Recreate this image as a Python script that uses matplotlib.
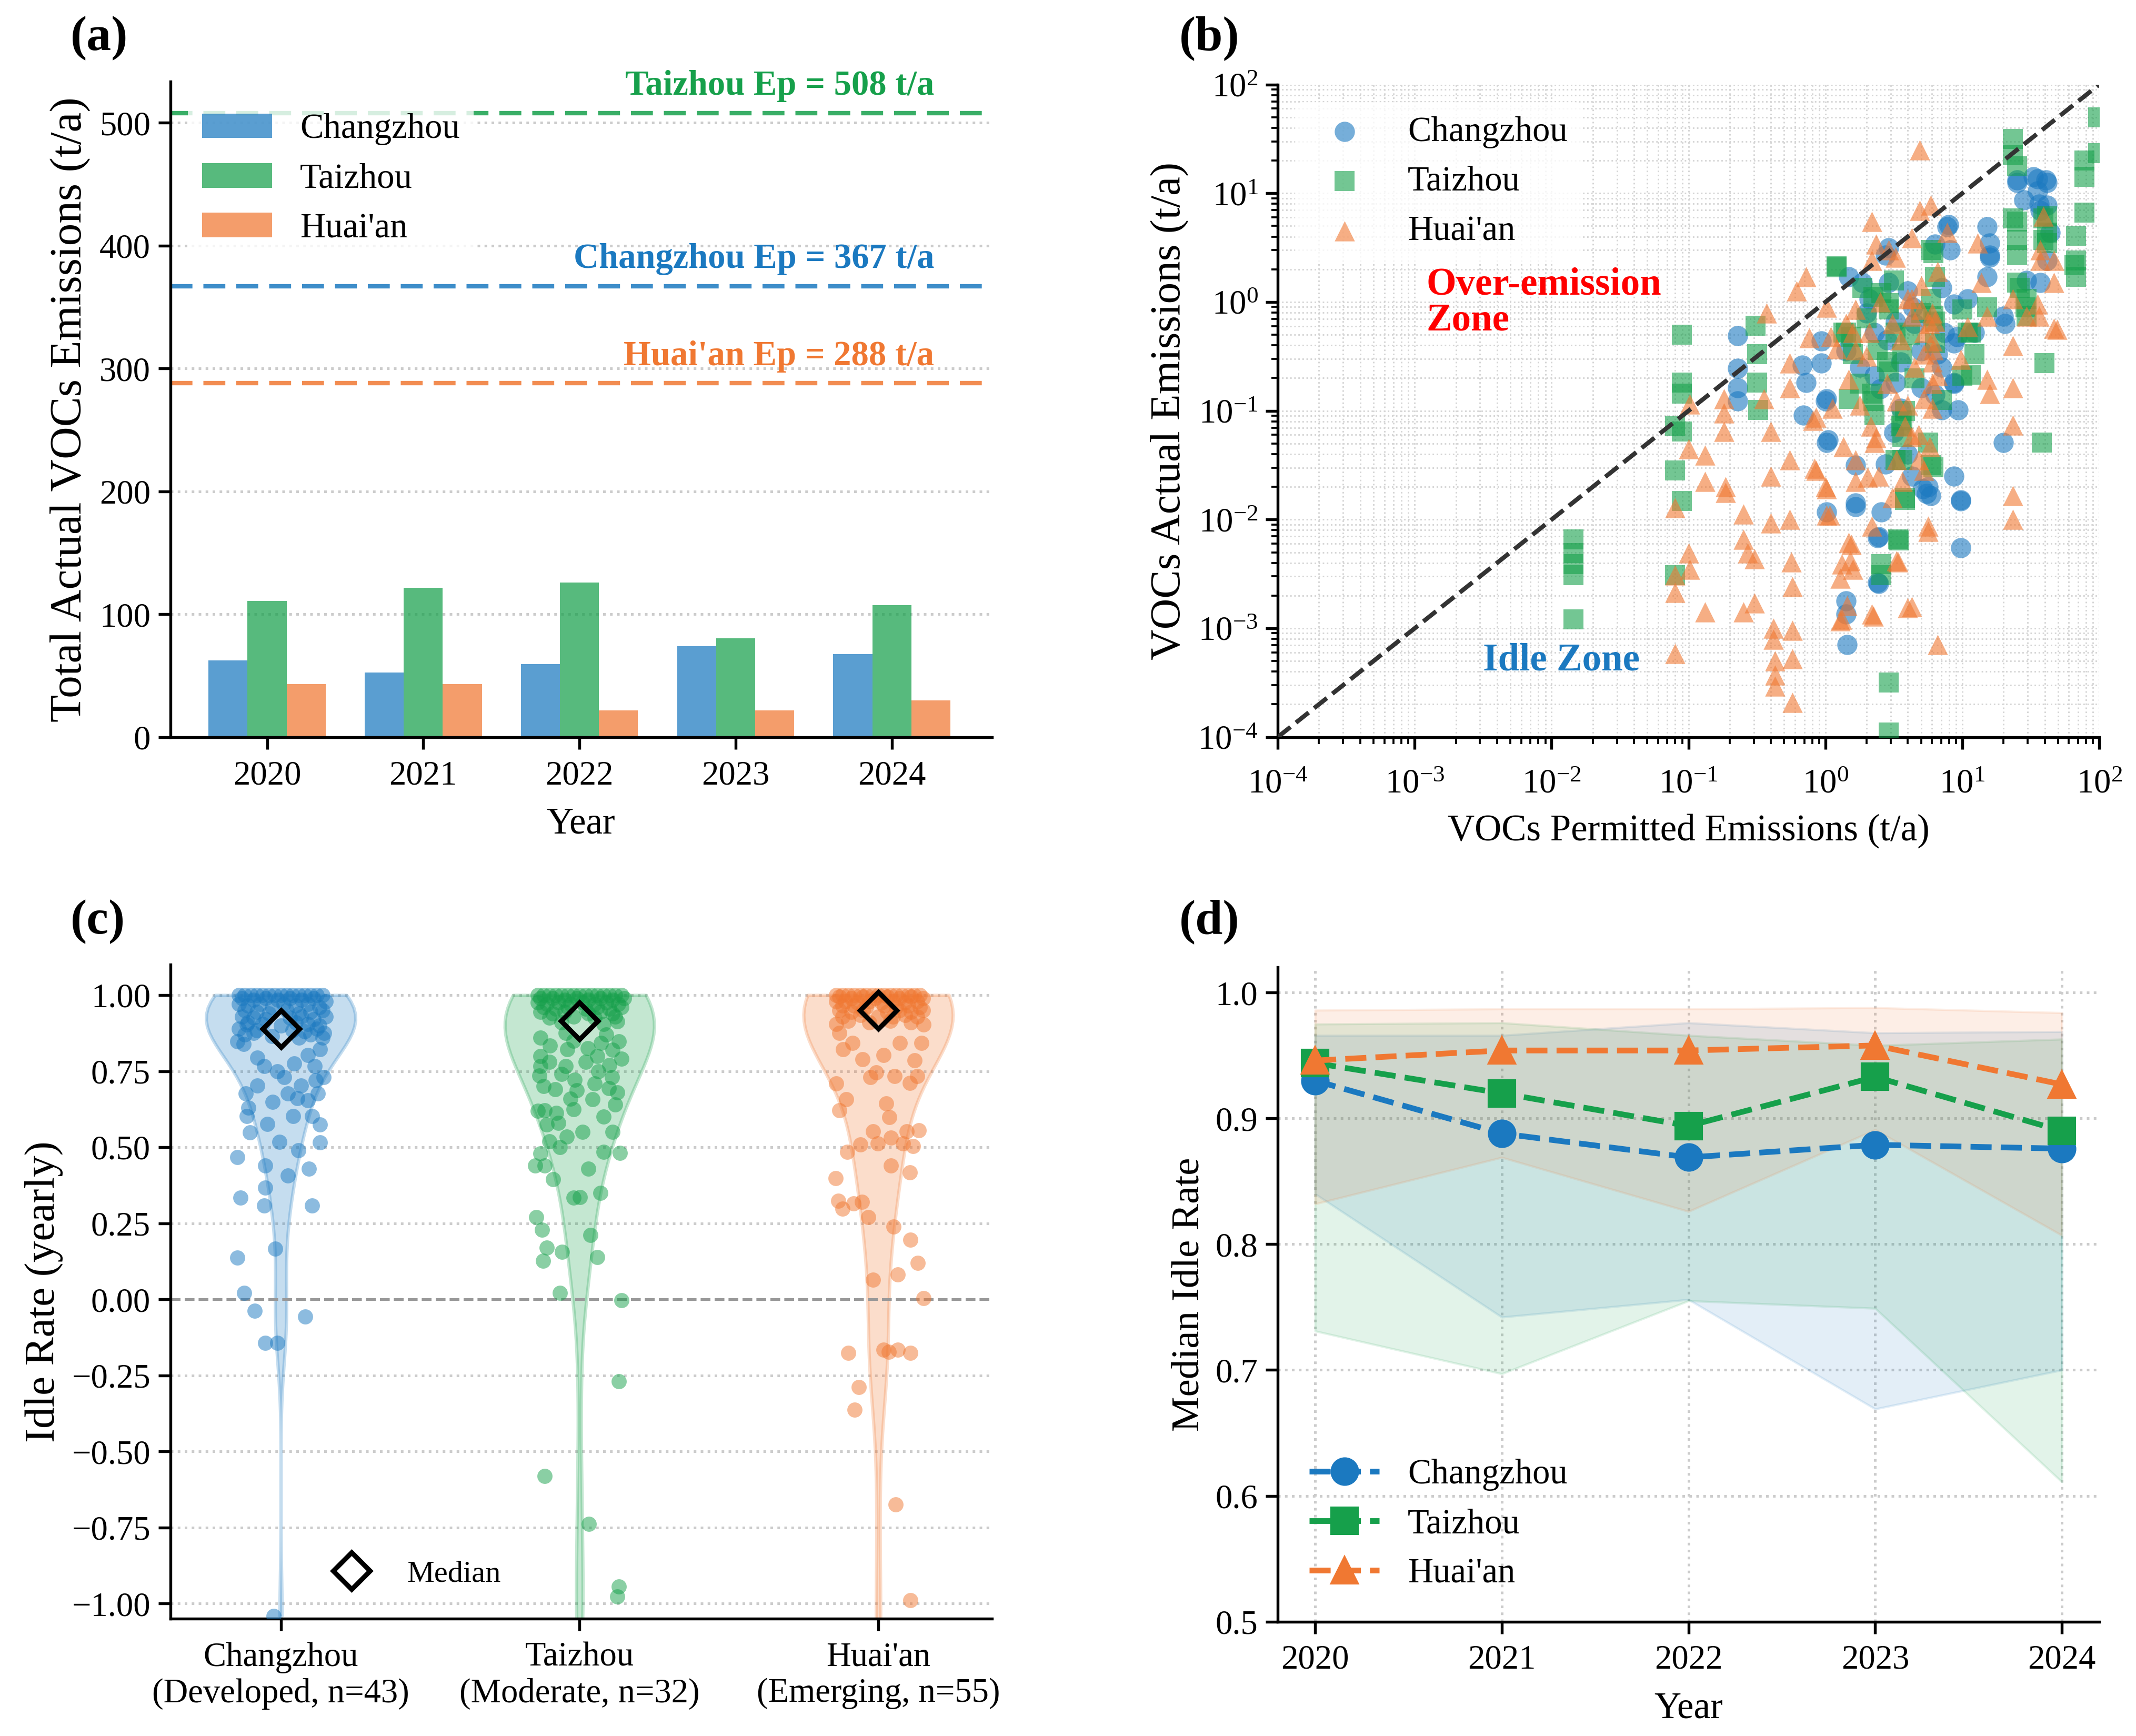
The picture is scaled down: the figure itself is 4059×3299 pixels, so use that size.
import numpy as np
import matplotlib
matplotlib.use('Agg')
import matplotlib.pyplot as plt
from matplotlib.lines import Line2D
from matplotlib.ticker import FuncFormatter

plt.rcParams['font.family'] = ['Liberation Serif', 'DejaVu Serif']
plt.rcParams['mathtext.fontset'] = 'stix'
plt.rcParams['axes.linewidth'] = 1.3
for ax_name in ['xtick', 'ytick']:
    plt.rcParams[ax_name + '.major.width'] = 1.3
    plt.rcParams[ax_name + '.major.size'] = 5.5
    plt.rcParams[ax_name + '.minor.width'] = 0.9
    plt.rcParams[ax_name + '.minor.size'] = 3
    plt.rcParams[ax_name + '.labelsize'] = 15.5

# ---------------- datos ----------------
cities = ['Changzhou', 'Taizhou', "Huai'an"]
colors = ['#1b79c0', '#16a04b', '#f07832']
years = [2020, 2021, 2022, 2023, 2024]

# (a) emisiones totales reales por año (t/a)
act_cz = [62.6, 52.7, 59.5, 73.9, 67.6]
act_tz = [110.8, 121.6, 125.7, 80.6, 107.2]
act_ha = [43.2, 43.2, 21.6, 21.6, 29.7]
ep_vals = [367, 508, 288]  # emisiones permitidas

# (b) pares (log10 permitido, log10 real)
cz_pts = [(-0.64, -0.31), (-0.64, -0.61), (-0.64, -0.79), (-0.64, -0.91), (-0.17, -0.58), (-0.14, -0.74),
          (-0.16, -1.04), (0.01, -0.89), (0.01, -1.29), (0.01, -1.93), (0.15, -2.75), (0.15, -2.87),
          (0.16, -3.15), (0.17, 0.23), (0.22, -1.50), (0.22, -1.85), (0.32, 0.03), (0.36, -0.28),
          (0.36, -0.68), (0.39, -2.16), (0.41, -1.93), (0.39, -2.59), (0.44, 0.43), (0.46, 0.18),
          (0.51, -0.18), (0.51, -0.74), (0.60, -1.40), (0.63, -1.60), (0.70, -0.79), (0.75, -1.70),
          (0.77, -1.78), (0.80, 0.53), (0.85, 0.13), (0.87, -0.28), (0.82, -0.48), (0.85, -0.99),
          (0.89, 0.69), (0.91, 0.48), (0.94, -0.02), (0.94, -0.38), (0.94, -0.74), (0.97, -0.99),
          (0.94, -1.60), (0.99, -1.83), (0.99, -2.26), (1.04, 0.03), (1.09, -0.28), (1.18, 0.69),
          (1.20, 0.54), (1.20, 0.43), (1.18, 0.23), (1.30, -0.13), (1.30, -1.29), (1.40, 1.10),
          (1.45, 0.94), (1.52, 1.15), (1.55, 1.02), (1.57, 0.84), (1.62, 1.10), (1.62, 0.89),
          (1.64, 0.64), (1.62, 0.38), (1.47, 0.20), (1.57, 0.18), (0.99, -1.82), (0.38, -2.17),
          (0.38, -2.58), (1.20, 0.41), (1.40, 1.12), (1.55, 1.13), (1.61, 1.12), (1.56, 0.90),
          (1.31, -0.20), (0.90, 0.71), (0.96, -0.32), (0.94, -0.75), (0.46, 0.50), (0.27, 0.18),
          (-0.03, -0.36), (-0.03, -0.56), (0.00, -0.91), (0.02, -1.27), (0.22, -1.88), (0.64, -0.05),
          (0.71, -1.72), (0.74, -1.76), (0.44, -1.49), (0.55, -0.98), (0.30, -0.10), (0.45, -0.35),
          (0.55, -0.55), (0.65, -0.20), (0.25, -0.60), (0.60, 0.10), (0.70, -0.45), (0.40, -0.80),
          (0.80, -0.85), (0.15, -0.45), (0.50, -1.20), (0.85, -0.60)]
tz_pts = [(-1.05, -0.30), (-1.05, -0.74), (-1.05, -0.84), (-1.10, -1.14), (-1.05, -1.19), (-1.10, -1.55),
          (-1.05, -1.83), (-1.10, -2.51), (-1.84, -2.18), (-1.84, -2.31), (-1.84, -2.41), (-1.84, -2.51),
          (-1.84, -2.92), (-0.51, -0.22), (-0.50, -0.48), (-0.50, -0.74), (-0.49, -0.99), (0.08, 0.33),
          (0.15, -0.28), (0.20, -0.48), (0.17, -0.89), (0.27, 0.13), (0.41, 0.08), (0.46, -0.07),
          (0.51, -0.28), (0.56, -0.48), (0.34, -0.84), (0.36, -1.04), (0.56, -1.09), (0.56, -1.24),
          (0.51, -1.45), (0.58, -1.80), (0.53, -2.18), (0.41, -2.41), (0.41, -2.51), (0.46, -3.50),
          (0.46, -3.96), (0.77, 0.48), (0.80, 0.23), (0.77, 0.03), (0.80, -0.18), (0.80, -0.38),
          (0.75, -1.29), (0.77, -1.50), (1.00, -0.07), (1.04, -0.28), (1.09, -0.48), (1.00, -0.68),
          (1.37, 1.50), (1.37, 1.35), (1.40, 1.25), (1.40, 0.74), (1.40, 0.43), (1.42, 0.13),
          (1.47, 0.03), (1.47, -0.13), (1.62, 0.79), (1.62, 0.64), (1.62, 0.54), (1.60, -0.56),
          (1.58, -1.29), (1.83, 0.61), (1.83, 0.38), (1.83, 0.23), (1.89, 1.30), (1.89, 1.15),
          (1.89, 0.82), (1.99, 1.70), (1.99, 1.37), (1.37, 0.77), (1.40, 0.57), (1.59, 0.77),
          (1.59, 0.57), (1.82, 0.34), (1.40, 0.18), (1.46, -0.05), (1.18, -0.05), (1.06, -0.28),
          (1.06, -0.67), (0.79, 0.45), (0.08, 0.32), (0.19, -0.32), (0.35, -0.91), (0.55, -1.14),
          (0.56, -1.45), (0.58, -1.82), (0.54, -2.19), (0.79, -0.13), (0.79, -1.52), (0.46, -0.01),
          (0.13, -0.28), (0.38, -0.44), (0.46, -0.64), (0.30, -0.15), (0.45, -0.55), (0.62, -0.30),
          (0.25, -0.75), (0.70, -0.10), (0.50, 0.20), (0.65, -0.70), (0.35, 0.05), (0.85, -0.90),
          (0.58, -1.00)]
ha_pts = [(-1.10, -1.89), (-1.10, -2.51), (-1.10, -2.67), (-1.10, -3.23), (-1.00, -2.31), (-0.99, -2.46),
          (-0.99, -0.94), (-1.00, -1.35), (-0.88, -1.41), (-0.88, -1.65), (-0.88, -2.85), (-0.74, -0.89),
          (-0.74, -1.02), (-0.74, -1.19), (-0.73, -1.70), (-0.73, -1.75), (-0.60, -1.95), (-0.60, -2.18),
          (-0.60, -2.85), (-0.57, -2.31), (-0.52, -2.36), (-0.52, -2.77), (-0.45, -0.89), (-0.43, -0.10),
          (-0.40, -1.19), (-0.40, -1.60), (-0.40, -2.03), (-0.38, -3.00), (-0.38, -3.10), (-0.37, -3.30),
          (-0.37, -3.43), (-0.37, -3.53), (-0.26, -0.56), (-0.26, -0.79), (-0.26, -1.45), (-0.26, -2.00),
          (-0.25, -2.39), (-0.24, -3.02), (-0.24, -3.28), (-0.24, -3.68), (-0.24, -2.62), (-0.21, 0.10),
          (-0.14, 0.23), (-0.12, -0.33), (-0.09, -1.09), (-0.07, -1.55), (0.00, -1.70), (0.03, -1.96),
          (0.08, -0.43), (0.12, -2.41), (0.12, -2.92), (0.17, -2.21), (0.20, -2.46), (0.22, -1.45),
          (0.22, -1.65), (0.22, -0.07), (0.32, -0.28), (0.34, 0.74), (0.34, 0.38), (0.34, -2.06),
          (0.34, -2.87), (0.36, -1.29), (0.39, -1.60), (0.46, 0.48), (0.49, -1.80), (0.53, -2.39),
          (0.56, -1.65), (0.58, -1.14), (0.63, 0.59), (0.63, 0.03), (0.63, -1.24), (0.63, -2.80),
          (0.69, 1.40), (0.69, 0.84), (0.70, -0.07), (0.72, -0.28), (0.72, -0.48), (0.72, -0.89),
          (0.72, -1.55), (0.75, -2.06), (0.77, 0.89), (0.80, -0.18), (0.82, -0.68), (0.82, -3.15),
          (0.82, 0.28), (1.11, 0.54), (1.14, 0.18), (1.18, -0.13), (1.18, -0.71), (1.20, -0.84),
          (1.37, -0.40), (1.37, -0.79), (1.37, -1.13), (1.37, -1.78), (1.37, -2.00), (1.37, 0.03),
          (1.47, -0.13), (1.57, 0.48), (1.57, 0.38), (1.59, 0.79), (1.67, 0.38), (1.67, 0.18),
          (1.69, -0.25), (1.55, -0.02), (0.89, 0.64), (0.99, -0.53), (1.04, -0.23), (1.67, -0.24),
          (1.56, -0.13), (0.78, -0.36), (0.78, -0.98), (0.76, -1.33), (0.75, -2.11), (0.60, -2.81),
          (0.52, -2.38), (0.35, -2.89), (0.19, -2.23), (0.18, -2.38), (0.11, -2.54), (0.11, -2.93),
          (0.16, -2.79), (0.01, -1.96), (0.01, -1.72), (-0.08, -1.53), (0.13, -1.33), (0.33, -1.14),
          (0.37, -1.25), (0.52, -0.91), (0.68, -1.22), (0.68, -1.45), (0.52, -1.45), (0.31, -1.61),
          (0.76, -0.20), (0.79, -0.44), (0.49, -0.20), (0.63, -0.13), (0.60, 0.03), (0.51, 0.41),
          (0.37, 0.53), (0.20, -0.28), (0.22, -0.44), (0.04, -0.32), (0.17, -0.71), (0.05, -0.98),
          (-0.07, -1.06), (0.01, -0.05), (0.30, -0.50), (0.45, -0.75), (0.55, -0.35), (0.65, -0.60),
          (0.78, -0.10), (0.78, -0.55), (0.78, -0.75), (0.25, -0.95), (0.40, 0.00), (0.60, -0.95),
          (0.70, 0.15), (0.15, -0.20)]

# (c) tasa de inactividad anual: pares (desplazamiento horizontal, valor)
cz_idle = [(-0.14, 1.0), (-0.12, 1.0), (-0.10, 1.0), (-0.08, 1.0), (-0.06, 1.0), (-0.04, 1.0), (-0.02, 1.0),
           (0.00, 1.0), (0.02, 1.0), (0.04, 1.0), (0.06, 1.0), (0.08, 1.0), (0.10, 1.0), (0.12, 1.0),
           (0.14, 1.0), (-0.13, 0.99), (-0.09, 0.985), (-0.05, 0.99), (-0.01, 0.985), (0.03, 0.99),
           (0.07, 0.985), (0.11, 0.99), (0.15, 0.98), (-0.14, 0.97), (-0.11, 0.965), (-0.07, 0.97),
           (-0.03, 0.96), (0.01, 0.97), (0.05, 0.965), (0.09, 0.97), (0.13, 0.96), (-0.12, 0.95),
           (-0.08, 0.945), (-0.04, 0.94), (0.02, 0.95), (0.06, 0.94), (0.10, 0.945), (0.14, 0.95),
           (-0.13, 0.93), (-0.09, 0.925), (-0.05, 0.92), (0.03, 0.925), (0.07, 0.93), (0.11, 0.92),
           (0.15, 0.93), (-0.11, 0.91), (-0.06, 0.905), (0.00, 0.90), (0.05, 0.91), (0.09, 0.905),
           (0.13, 0.90), (-0.14, 0.89), (-0.08, 0.885), (0.04, 0.885), (0.08, 0.88), (0.12, 0.89),
           (-0.12, 0.87), (-0.03, 0.865), (0.06, 0.86), (0.10, 0.87), (0.14, 0.86),
           (-0.146, 0.847), (-0.124, 0.84), (-0.079, 0.794), (-0.056, 0.767), (0.045, 0.776), (0.09, 0.803),
           (0.131, 0.822), (0.113, 0.767), (0.146, 0.876), (-0.09, 0.876), (-0.113, 0.904),
           (-0.011, 0.749), (0.011, 0.73), (-0.079, 0.703), (0.068, 0.703), (0.117, 0.72), (0.144, 0.73),
           (0.124, 0.676), (0.09, 0.654), (0.056, 0.661), (0.023, 0.676), (-0.027, 0.649), (-0.117, 0.676),
           (-0.108, 0.63), (-0.113, 0.603), (-0.104, 0.549), (-0.045, 0.576), (-0.005, 0.518),
           (0.041, 0.603), (0.104, 0.603), (0.131, 0.574), (0.131, 0.516), (0.059, 0.49), (0.095, 0.43),
           (0.104, 0.308), (-0.146, 0.467), (-0.135, 0.334), (-0.052, 0.44), (-0.052, 0.367),
           (-0.056, 0.308), (0.023, 0.407), (-0.018, 0.167), (-0.146, 0.137), (-0.122, 0.021),
           (-0.088, -0.037), (-0.052, -0.143), (-0.011, -0.143), (0.081, -0.056), (-0.023, -1.04)]
tz_idle = [(-0.14, 1.0), (-0.12, 1.0), (-0.10, 1.0), (-0.08, 1.0), (-0.06, 1.0), (-0.04, 1.0), (-0.02, 1.0),
           (0.00, 1.0), (0.02, 1.0), (0.04, 1.0), (0.06, 1.0), (0.08, 1.0), (0.10, 1.0), (0.12, 1.0),
           (0.14, 1.0), (-0.13, 0.99), (-0.09, 0.99), (-0.05, 0.985), (-0.01, 0.99), (0.03, 0.985),
           (0.07, 0.99), (0.11, 0.985), (0.15, 0.99), (-0.14, 0.975), (-0.11, 0.97), (-0.07, 0.975),
           (-0.03, 0.97), (0.01, 0.975), (0.05, 0.97), (0.09, 0.975), (0.13, 0.97), (-0.12, 0.96),
           (-0.08, 0.955), (-0.04, 0.96), (0.02, 0.955), (0.06, 0.96), (0.10, 0.955), (0.14, 0.96),
           (-0.13, 0.945), (-0.09, 0.94), (-0.05, 0.945), (0.03, 0.94), (0.07, 0.945), (0.11, 0.94),
           (-0.10, 0.925), (-0.02, 0.93), (0.05, 0.925), (0.12, 0.93), (-0.06, 0.91), (0.08, 0.905),
           (0.126, 0.913), (-0.047, 0.876), (-0.099, 0.834), (-0.041, 0.822), (0.027, 0.825),
           (0.072, 0.843), (0.131, 0.847), (0.11, 0.82), (-0.135, 0.736), (-0.131, 0.767),
           (-0.047, 0.767), (-0.016, 0.722), (0.063, 0.749), (0.108, 0.73), (-0.081, 0.69),
           (-0.009, 0.687), (0.099, 0.694), (0.126, 0.68), (0.043, 0.658), (-0.02, 0.625),
           (-0.117, 0.621), (-0.077, 0.612), (-0.11, 0.574), (-0.043, 0.534), (-0.065, 0.5),
           (-0.131, 0.48), (0.081, 0.485), (0.135, 0.481), (-0.149, 0.44), (-0.117, 0.44),
           (-0.088, 0.394), (0.029, 0.43), (-0.02, 0.334), (0.002, 0.336), (0.07, 0.349),
           (0.036, 0.212), (0.059, 0.139), (-0.144, 0.27), (-0.126, 0.228), (-0.11, 0.17),
           (-0.059, 0.156), (-0.122, 0.126), (-0.065, 0.021), (0.14, -0.003), (0.131, -0.27),
           (-0.117, -0.58), (0.032, -0.738), (0.131, -0.944), (0.126, -0.976), (0.0, -1.12),
           (-0.13, 0.80), (-0.10, 0.78), (-0.06, 0.74), (0.02, 0.78), (0.06, 0.80), (0.10, 0.77),
           (0.14, 0.79), (-0.12, 0.70), (-0.03, 0.66), (0.05, 0.71), (0.12, 0.64), (-0.14, 0.62),
           (-0.07, 0.58), (0.08, 0.60), (0.11, 0.55), (-0.10, 0.52), (0.01, 0.55), (-0.13, 0.86),
           (0.09, 0.87), (-0.02, 0.85)]
ha_idle = [(-0.14, 1.0), (-0.12, 1.0), (-0.10, 1.0), (-0.08, 1.0), (-0.06, 1.0), (-0.04, 1.0), (-0.02, 1.0),
           (0.00, 1.0), (0.02, 1.0), (0.04, 1.0), (0.06, 1.0), (0.08, 1.0), (0.10, 1.0), (0.12, 1.0),
           (0.14, 1.0), (-0.13, 0.995), (-0.09, 0.99), (-0.05, 0.995), (-0.01, 0.99), (0.03, 0.995),
           (0.07, 0.99), (0.11, 0.995), (0.15, 0.99), (-0.14, 0.98), (-0.11, 0.98), (-0.07, 0.975),
           (-0.03, 0.98), (0.01, 0.975), (0.05, 0.98), (0.09, 0.975), (0.13, 0.98), (-0.12, 0.965),
           (-0.08, 0.965), (-0.04, 0.96), (0.02, 0.965), (0.06, 0.96), (0.10, 0.965), (0.14, 0.96),
           (-0.13, 0.95), (-0.09, 0.945), (-0.05, 0.95), (0.03, 0.945), (0.07, 0.95), (0.11, 0.945),
           (0.15, 0.95), (-0.12, 0.93), (-0.06, 0.935), (0.0, 0.93), (0.05, 0.93), (0.09, 0.935),
           (0.13, 0.93), (-0.10, 0.915), (-0.03, 0.91), (0.04, 0.915), (0.11, 0.91), (-0.14, 0.905),
           (0.151, 0.904), (-0.131, 0.876), (-0.086, 0.843), (-0.117, 0.822), (0.072, 0.843),
           (0.144, 0.843), (0.018, 0.803), (-0.052, 0.789), (0.122, 0.785), (0.131, 0.734),
           (0.106, 0.712), (0.054, 0.734), (-0.007, 0.745), (-0.027, 0.731), (-0.14, 0.709),
           (-0.108, 0.658), (-0.131, 0.621), (0.027, 0.643), (0.038, 0.598), (-0.018, 0.552),
           (0.043, 0.531), (0.095, 0.552), (0.135, 0.556), (0.117, 0.503), (0.083, 0.512),
           (-0.002, 0.512), (-0.059, 0.509), (-0.104, 0.485), (0.043, 0.44), (0.106, 0.418),
           (-0.142, 0.398), (-0.054, 0.321), (-0.083, 0.316), (-0.133, 0.323), (-0.119, 0.298),
           (-0.034, 0.27), (0.052, 0.239), (0.108, 0.196), (0.133, 0.119), (0.065, 0.081),
           (-0.018, 0.065), (0.151, 0.003), (-0.101, -0.176), (0.018, -0.165), (0.036, -0.172),
           (0.065, -0.165), (0.108, -0.176), (-0.065, -0.288), (-0.079, -0.363), (0.059, -0.674),
           (0.108, -0.989), (0.0, -1.12)]
median_idle = [0.89, 0.915, 0.95]
group_labels = ['Changzhou\n(Developed, n=43)', 'Taizhou\n(Moderate, n=32)', "Huai'an\n(Emerging, n=55)"]

# (d) mediana anual y rango intercuartílico
cz_med = [0.930, 0.888, 0.869, 0.879, 0.876]
tz_med = [0.944, 0.920, 0.894, 0.933, 0.890]
ha_med = [0.946, 0.954, 0.954, 0.958, 0.927]
cz_lo = [0.840, 0.742, 0.756, 0.669, 0.700]
cz_hi = [0.966, 0.966, 0.976, 0.968, 0.969]
tz_lo = [0.731, 0.697, 0.755, 0.749, 0.611]
tz_hi = [0.975, 0.976, 0.966, 0.958, 0.963]
ha_lo = [0.832, 0.869, 0.826, 0.891, 0.807]
ha_hi = [0.986, 0.987, 0.987, 0.988, 0.984]

fig = plt.figure(figsize=(13.53, 10.997), dpi=300)

def clean(ax):
    ax.spines['top'].set_visible(False)
    ax.spines['right'].set_visible(False)

# ---------------- (a) ----------------
ax1 = fig.add_axes([0.0797, 0.5754, 0.3846, 0.3775])
x = np.arange(len(years))
w = 0.25
for i, vals in enumerate([act_cz, act_tz, act_ha]):
    ax1.bar(x + (i - 1) * w, vals, w, color=colors[i], alpha=0.72, label=cities[i], zorder=2)
for i, ep in enumerate(ep_vals):
    ax1.axhline(ep, color=colors[i], ls='--', lw=2, dashes=(5, 2.5), alpha=0.85, zorder=1)
    ax1.annotate(f'{cities[i]} Ep = {ep} t/a', xy=(0.93, ep), xycoords=ax1.get_yaxis_transform(),
                 xytext=(0, 5), textcoords='offset points', ha='right', va='bottom',
                 color=colors[i], fontsize=16, fontweight='bold')
ax1.set_xticks(x)
ax1.set_xticklabels(years)
ax1.tick_params(axis='x', pad=5)
ax1.set_xlim(-0.62, 4.64)
ax1.set_ylim(0, max(ep_vals) * 1.05)
ax1.set_yticks([0, 100, 200, 300, 400, 500])
ax1.yaxis.grid(True, ls=':', color='#cccccc', lw=1.2, zorder=0)
ax1.set_axisbelow(True)
ax1.set_xlabel('Year', fontsize=17, labelpad=7)
ax1.set_ylabel('Total Actual VOCs Emissions (t/a)', fontsize=20.5)
leg = ax1.legend(loc='upper left', fontsize=16, framealpha=0.8, edgecolor='none')
leg.set_zorder(5)
clean(ax1)

# ---------------- (b) ----------------
ax2 = fig.add_axes([0.5982, 0.5754, 0.3846, 0.3759])
markers = ['o', 's', '^']
for i, pts in enumerate([cz_pts, tz_pts, ha_pts]):
    arr = np.array(pts)
    ax2.scatter(10 ** arr[:, 0], 10 ** arr[:, 1], s=85, marker=markers[i], color=colors[i],
                alpha=0.6, linewidths=0, label=cities[i], zorder=3)
ax2.plot([1e-4, 1e2], [1e-4, 1e2], ls='--', color='#333333', lw=2, zorder=4)
ax2.set_xscale('log')
ax2.set_yscale('log')
ax2.set_xlim(1e-4, 1e2)
ax2.set_ylim(1e-4, 1e2)
ax2.tick_params(axis='x', which='major', pad=9)
ax2.grid(True, which='both', ls=':', color='#d5d5d5', lw=0.7, zorder=0)
ax2.set_axisbelow(True)
ax2.text(0.181, 0.72, 'Over-emission\nZone', transform=ax2.transAxes, color='red',
         fontsize=17.5, fontweight='bold', va='top', ha='left', linespacing=1.0)
ax2.text(0.25, 0.117, 'Idle Zone', transform=ax2.transAxes, color=colors[0],
         fontsize=17.5, fontweight='bold', va='center', ha='left')
ax2.set_xlabel('VOCs Permitted Emissions (t/a)', fontsize=17, labelpad=6)
ax2.set_ylabel('VOCs Actual Emissions (t/a)', fontsize=19.5)
leg = ax2.legend(loc='upper left', fontsize=16, framealpha=0.8, edgecolor='none')
leg.set_zorder(5)
clean(ax2)

# ---------------- (c) ----------------
ax3 = fig.add_axes([0.0797, 0.0675, 0.3846, 0.3768])
groups = [cz_idle, tz_idle, ha_idle]
vp = ax3.violinplot([np.array(g)[:, 1] for g in groups], positions=[0, 1, 2], widths=0.5,
                    showextrema=False, showmedians=False)
for i, body in enumerate(vp['bodies']):
    body.set_facecolor(colors[i])
    body.set_alpha(0.25)
    body.set_edgecolor(colors[i])
    body.set_linewidth(1.5)
for i, g in enumerate(groups):
    arr = np.array(g)
    ax3.scatter(i + arr[:, 0], arr[:, 1], s=48, color=colors[i], alpha=0.5, linewidths=0, zorder=3)
    ax3.plot(i, median_idle[i], marker='D', markersize=12, markerfacecolor='none',
             markeredgecolor='black', markeredgewidth=2.2, zorder=5)
ax3.axhline(0, color='#999999', ls='--', lw=1.2, zorder=1)
ax3.set_xticks([0, 1, 2])
ax3.set_xticklabels(group_labels, fontsize=15.5)
ax3.tick_params(axis='x', pad=5)
ax3.set_xlim(-0.37, 2.38)
ax3.set_ylim(-1.05, 1.1)
ax3.set_yticks(np.arange(-1.0, 1.01, 0.25))
ax3.yaxis.set_major_formatter(FuncFormatter(lambda v, p: f'{v:.2f}'.replace('-', '\u2212')))
ax3.yaxis.grid(True, ls=':', color='#cccccc', lw=1.2, zorder=0)
ax3.set_axisbelow(True)
ax3.set_ylabel('Idle Rate (yearly)', fontsize=19.5)
med_handle = Line2D([], [], ls='none', marker='D', markersize=12, markerfacecolor='none',
                    markeredgecolor='black', markeredgewidth=2.2)
ax3.legend([med_handle], ['Median'], loc='lower left', bbox_to_anchor=(0.15, 0.005),
           frameon=False, fontsize=14)
clean(ax3)

# ---------------- (d) ----------------
ax4 = fig.add_axes([0.5982, 0.0659, 0.3846, 0.3768])
bands = [(cz_lo, cz_hi), (tz_lo, tz_hi), (ha_lo, ha_hi)]
for i, (lo, hi) in enumerate(bands):
    ax4.fill_between(years, lo, hi, color=colors[i], alpha=0.12, lw=1)
for i, med in enumerate([cz_med, tz_med, ha_med]):
    ax4.plot(years, med, ls='--', lw=2.6, marker=markers[i], markersize=12, color=colors[i],
             label=cities[i], zorder=3 + i)
ax4.set_xticks(years)
ax4.tick_params(axis='x', pad=5)
ax4.set_xlim(2019.8, 2024.2)
ax4.set_ylim(0.5, 1.02)
ax4.set_yticks([0.5, 0.6, 0.7, 0.8, 0.9, 1.0])
ax4.yaxis.set_major_formatter(FuncFormatter(lambda v, p: f'{v:.1f}'))
ax4.grid(True, ls=':', color='#cccccc', lw=1.2, zorder=0)
ax4.set_axisbelow(True)
ax4.set_xlabel('Year', fontsize=17, labelpad=7)
ax4.set_ylabel('Median Idle Rate', fontsize=18)
ax4.legend(loc='lower left', fontsize=16, frameon=False)
clean(ax4)

# etiquetas de panel
for lab, px, py in [('(a)', 0.033, 0.978), ('(b)', 0.552, 0.978), ('(c)', 0.033, 0.469), ('(d)', 0.552, 0.469)]:
    fig.text(px, py, lab, fontsize=22.5, fontweight='bold', ha='left', va='center')

fig.savefig('out.png', dpi=300)
